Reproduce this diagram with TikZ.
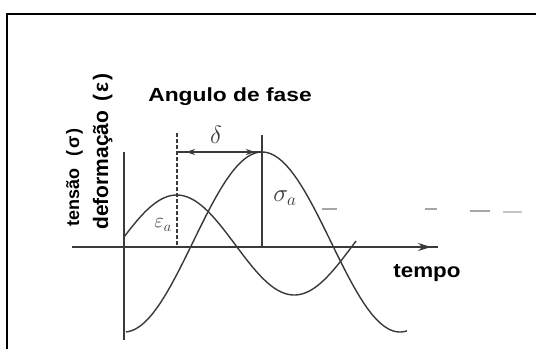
\documentclass[tikz,border=0pt]{standalone}
\usepackage{fontspec}
\setmainfont{Liberation Sans}
\usetikzlibrary{arrows.meta}
\definecolor{ink}{HTML}{3A3A3A}
\begin{document}
\begin{tikzpicture}[x=1pt,y=-1pt,
  axisline/.style={ink,line width=1.4pt},
  curve/.style={ink,line width=1.4pt},
  marker/.style={ink,line width=1.3pt},
  lbl/.style={inner sep=0pt,font=\bfseries},
  sym/.style={inner sep=0pt,text=ink},
  faint/.style={gray!70,line width=1.6pt}]
\useasboundingbox (0,0) rectangle (536,349);
\fill[white] (0,0) rectangle (536,349);
% frame (only top and left visible)
\draw[black,line width=2.4pt] (7,349) -- (7,14) -- (536,14);
% axes
\coordinate (xo) at (72,247);
\coordinate (xe) at (438,247);
\coordinate (yt) at (124,152);
\coordinate (yb) at (124,340);
\draw[axisline] (xo) -- (xe);
\draw[axisline,-{Stealth[length=13pt,width=8pt]}] (405,247) -- (431,247);
\draw[axisline] (yt) -- (yb);
% stress curve
\draw[curve] plot[domain=126:407,samples=160,smooth] (\x,{242+90*cos((\x-124)/276*360)});
% strain curve
\draw[curve] plot[domain=124:356,samples=140,smooth] (\x,{245-50*sin((\x-118)/235*360)});
% phase markers
\coordinate (dt) at (177,133);
\coordinate (db) at (177,247);
\coordinate (st) at (262,135);
\coordinate (sb) at (262,247);
\draw[marker,dashed,dash pattern=on 4pt off 2pt] (dt) -- (db);
\draw[marker] (st) -- (sb);
\coordinate (al) at (177,152);
\coordinate (ar) at (262,152);
\draw[marker] (al) -- (ar);
\draw[marker,-{Stealth[length=9pt,width=6pt]}] (200,152) -- (186,152);
\draw[marker,-{Stealth[length=9pt,width=6pt]}] (240,152) -- (255,152);
% faint dashed level line
\draw[faint] (322,209) -- (337,209);
\draw[faint] (425,209) -- (437,209);
\draw[faint] (470,211) -- (490,211);
\draw[faint,gray!45] (503,212) -- (522,212);
% labels
\node[lbl,anchor=base] (title) at (230,101) {\scalebox{1.2}[1]{\fontsize{19}{22}\selectfont Angulo de fase}};
\node[lbl,anchor=base] (tempo) at (427,277) {\scalebox{1.12}[1]{\fontsize{20}{24}\selectfont tempo}};
\node[lbl,anchor=base west,rotate=90] (tens) at (79,227) {\fontsize{18}{22}\selectfont tensão\hspace{12pt}(\hspace{2pt}σ\hspace{2pt})};
\node[lbl,anchor=base west,rotate=90] (defo) at (108,230) {\fontsize{21}{24}\selectfont deformação\hspace{9pt}(\hspace{2pt}ε\hspace{2pt})};
\node[sym] (delta) at (216,135) {\fontsize{25}{28}\selectfont$\delta$};
\node[sym] (sa) at (285,198) {\fontsize{24}{28}\selectfont$\sigma_{a}$};
\node[sym] (ea) at (163,225) {\fontsize{21}{24}\selectfont$\varepsilon_{a}$};
\end{tikzpicture}
\end{document}
